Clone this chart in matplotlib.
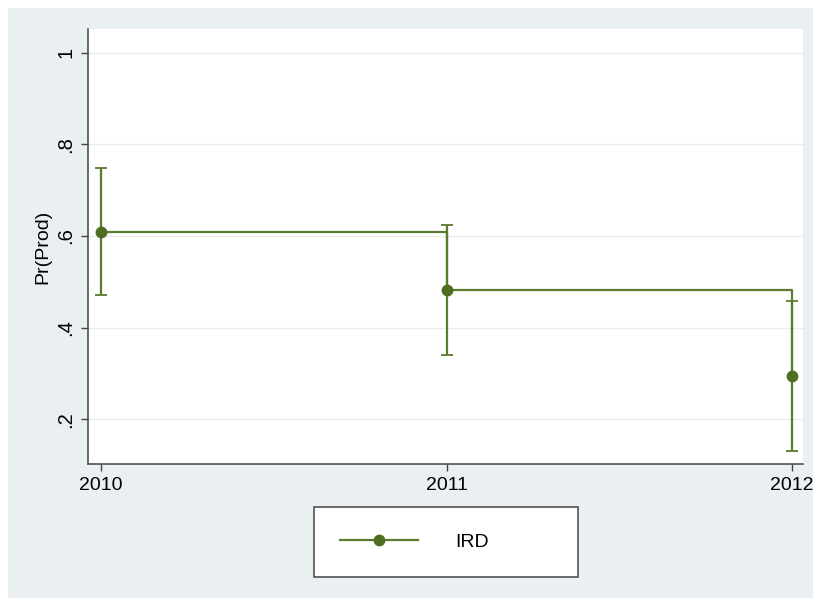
import matplotlib
matplotlib.use("Agg")
import matplotlib.pyplot as plt
from matplotlib.patches import Rectangle

# valores
anos = [2010, 2011, 2012]
prob = [0.609, 0.482, 0.294]
ic_sup = [0.749, 0.624, 0.458]
ic_inf = [0.471, 0.340, 0.131]
y_ticks = [0.2, 0.4, 0.6, 0.8, 1.0]
y_labels = [".2", ".4", ".6", ".8", "1"]
serie = "IRD"

verde = "#5b7b2e"
verde_marc = "#4e6e22"
fundo = "#eaf0f2"

plt.rcParams['font.family'] = ['Liberation Sans', 'DejaVu Sans']

fig = plt.figure(figsize=(8.13, 5.98), dpi=100, facecolor="white")
W, H = 813, 598
fig.patches.append(Rectangle((8 / W, 0), 1 - 8 / W, 1 - 8 / H, transform=fig.transFigure,
                             facecolor=fundo, edgecolor="none", zorder=-10))

ax = fig.add_axes([88 / W, 1 - 464 / H, 715 / W, 435 / H])
ax.set_facecolor("white")

# linha em degrau + pontos com IC
ax.step(anos, prob, where="post", color=verde, lw=1.6, zorder=3)
err = [[p - l for p, l in zip(prob, ic_inf)], [u - p for p, u in zip(prob, ic_sup)]]
ax.errorbar(anos, prob, yerr=err, fmt="none", ecolor=verde, elinewidth=1.6,
            capsize=4, capthick=1.3, zorder=3)
ax.plot(anos, prob, "o", color=verde_marc, ms=7.5, zorder=4)

ax.set_xlim(2009.962, 2012.032)
ax.set_ylim(0.102, 1.052)
ax.set_xticks(anos)
ax.set_xticklabels([str(a) for a in anos], fontsize=14)
ax.set_yticks(y_ticks)
ax.set_yticklabels(y_labels, fontsize=14.5, rotation=90, va="center")
ax.set_ylabel("Pr(Prod)", fontsize=14, labelpad=4)

ax.grid(axis="y", color="#ececec", lw=1)
ax.set_axisbelow(True)
for s in ["top", "right"]:
    ax.spines[s].set_visible(False)
for s in ["left", "bottom"]:
    ax.spines[s].set_color("#444444")
    ax.spines[s].set_linewidth(1.1)
ax.tick_params(direction="out", length=5, width=1, color="#444444", pad=4)

# legenda
h, = ax.plot([], [], "-o", color=verde, mfc=verde_marc, mec=verde_marc, lw=1.6, ms=7.5)
leg = fig.legend([h], [serie], loc="center", mode="expand",
                 bbox_to_anchor=(314 / W, 1 - 576 / H, 264 / W, 68 / H),
                 borderaxespad=0, fontsize=14, handlelength=4.0, handletextpad=1.9,
                 borderpad=1.35, fancybox=False, framealpha=1)
leg.get_frame().set_edgecolor("#444444")
leg.get_frame().set_linewidth(1.1)

fig.savefig("out.png", dpi=100, facecolor=fig.get_facecolor())
